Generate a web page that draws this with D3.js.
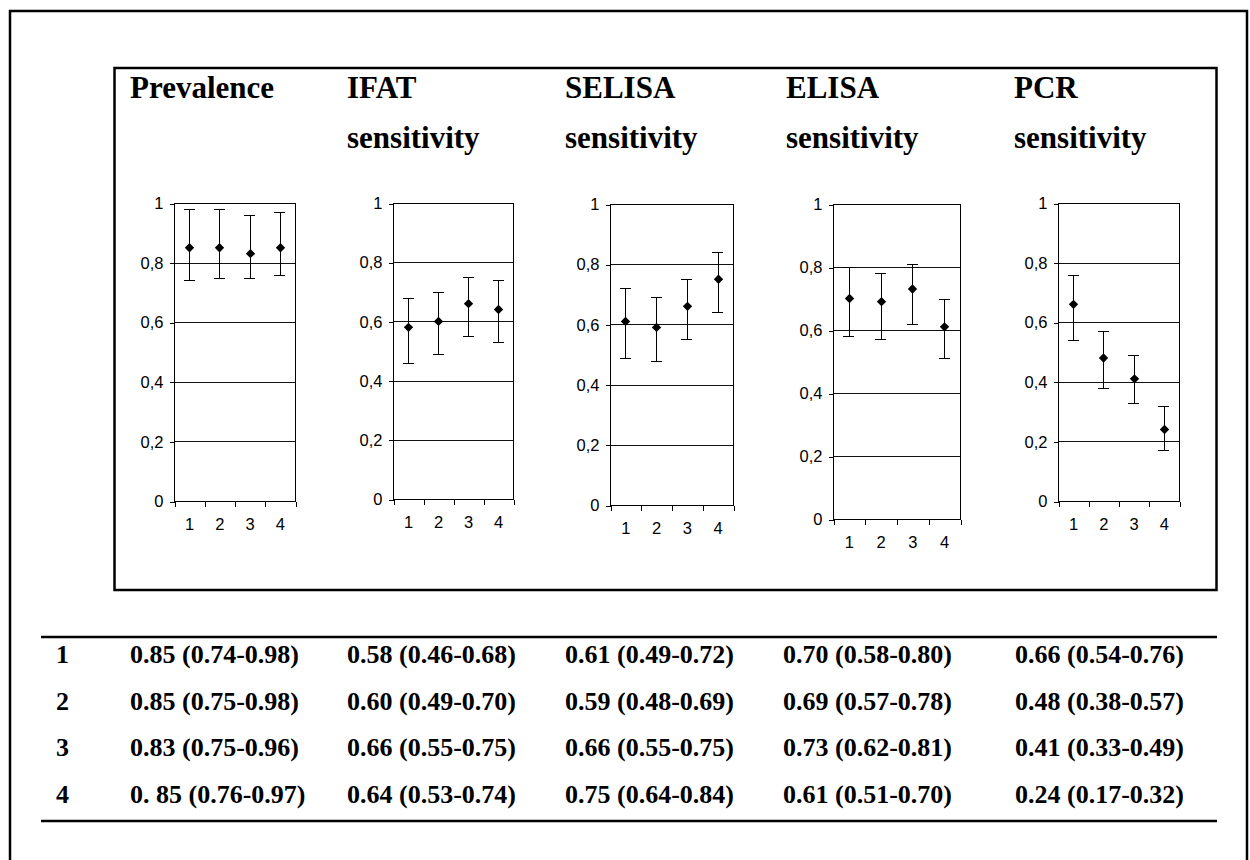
<!DOCTYPE html>
<html>
<head>
<meta charset="utf-8">
<script src="https://cdn.jsdelivr.net/npm/d3@7"></script>
<style>
  body { margin: 0; background: #fff; }
  svg { display: block; }
</style>
</head>
<body>
<svg id="chart"></svg>
<script>
// groups 1-4, one panel per parameter
const groups = [1, 2, 3, 4];
const titles = ["Prevalence", "IFAT", "SELISA", "ELISA", "PCR"];
const subtitles = ["", "sensitivity", "sensitivity", "sensitivity", "sensitivity"];

// point estimate, lower and upper limit, one row per panel
const estimate = [
  [0.85, 0.85, 0.83, 0.85],
  [0.58, 0.60, 0.66, 0.64],
  [0.61, 0.59, 0.66, 0.75],
  [0.70, 0.69, 0.73, 0.61],
  [0.66, 0.48, 0.41, 0.24]];
const lower = [
  [0.74, 0.75, 0.75, 0.76],
  [0.46, 0.49, 0.55, 0.53],
  [0.49, 0.48, 0.55, 0.64],
  [0.58, 0.57, 0.62, 0.51],
  [0.54, 0.38, 0.33, 0.17]];
const upper = [
  [0.98, 0.98, 0.96, 0.97],
  [0.68, 0.70, 0.75, 0.74],
  [0.72, 0.69, 0.75, 0.84],
  [0.80, 0.78, 0.81, 0.70],
  [0.76, 0.57, 0.49, 0.32]];

const yTicks = [0, 0.2, 0.4, 0.6, 0.8, 1];

const width = 1250;
const height = 860;

// plot areas are not quite evenly placed in the original
const panelBox = [
  {x0: 174, x1: 295, top: 203, bottom: 501},
  {x0: 393, x1: 513, top: 203, bottom: 499},
  {x0: 610, x1: 733, top: 204, bottom: 505},
  {x0: 833, x1: 960, top: 204, bottom: 519},
  {x0: 1058, x1: 1179, top: 203, bottom: 501}];
const headerX = [130, 347, 565, 786, 1014];
const tableX = [130, 347, 565, 783, 1015];
const rowY = [663, 709.5, 756, 802.5];

const serif = "'Liberation Serif', 'Times New Roman', serif";
const sans = "'Liberation Sans', Arial, sans-serif";

const comma = d3.formatLocale({decimal: ",", thousands: ".", grouping: [3], currency: ["", ""]}).format("~g");
const f2 = d3.format(".2f");

const svg = d3.select("#chart")
    .attr("width", width)
    .attr("height", height)
    .attr("viewBox", [0, 0, width, height]);

// outer page border (runs off the bottom)
svg.append("rect")
    .attr("x", 10).attr("y", 11)
    .attr("width", 1237).attr("height", 900)
    .attr("fill", "none").attr("stroke", "#000").attr("stroke-width", 2.5);

// frame round the charts
svg.append("rect")
    .attr("x", 114.5).attr("y", 68)
    .attr("width", 1102).attr("height", 522)
    .attr("fill", "none").attr("stroke", "#000").attr("stroke-width", 2.5);

// headers
titles.forEach((t, i) => {
  svg.append("text")
      .attr("x", headerX[i]).attr("y", 98)
      .attr("font-family", serif).attr("font-weight", "bold").attr("font-size", 31)
      .text(t);
  if (subtitles[i]) {
    svg.append("text")
        .attr("x", headerX[i]).attr("y", 148)
        .attr("font-family", serif).attr("font-weight", "bold").attr("font-size", 31)
        .text(subtitles[i]);
  }
});

titles.forEach((t, i) => {
  const b = panelBox[i];
  const x = d3.scaleLinear().domain([0.5, 4.5]).range([b.x0, b.x1]);
  const y = d3.scaleLinear().domain([0, 1]).range([b.bottom, b.top]);
  const g = svg.append("g").attr("shape-rendering", "crispEdges");

  // horizontal gridlines
  g.append("g").selectAll("line")
    .data(yTicks.filter(d => d > 0 && d < 1))
    .join("line")
      .attr("x1", b.x0).attr("x2", b.x1)
      .attr("y1", d => Math.round(y(d)) + 0.5).attr("y2", d => Math.round(y(d)) + 0.5)
      .attr("stroke", "#111");

  g.append("rect")
      .attr("x", b.x0 + 0.5).attr("y", b.top + 0.5)
      .attr("width", b.x1 - b.x0).attr("height", b.bottom - b.top)
      .attr("fill", "none").attr("stroke", "#000");

  // y axis
  g.append("g")
      .attr("transform", `translate(${b.x0 + 0.5},0.5)`)
      .call(d3.axisLeft(y).tickValues(yTicks).tickFormat(comma).tickSize(5).tickPadding(6))
      .call(a => a.select(".domain").remove())
      .call(a => a.selectAll("text").attr("font-family", sans).attr("font-size", 16.5).attr("fill", "#000"))
      .call(a => a.selectAll("line").attr("stroke", "#000"));

  // x axis: ticks between categories, labels under them
  g.append("g")
      .attr("transform", `translate(0.5,${b.bottom + 0.5})`)
      .call(d3.axisBottom(x).tickValues([0.5, 1.5, 2.5, 3.5, 4.5]).tickFormat("").tickSize(5))
      .call(a => a.select(".domain").remove())
      .call(a => a.selectAll("line").attr("stroke", "#000"));

  g.append("g")
      .attr("transform", `translate(0,${b.bottom})`)
      .call(d3.axisBottom(x).tickValues(groups).tickFormat(d3.format("d")).tickSize(0).tickPadding(17))
      .call(a => a.select(".domain").remove())
      .call(a => a.selectAll("text").attr("font-family", sans).attr("font-size", 16.5).attr("fill", "#000"));

  // error bars
  const bars = g.append("g").selectAll("g")
    .data(groups.map((grp, j) => ({grp, est: estimate[i][j], lo: lower[i][j], hi: upper[i][j]})))
    .join("g")
      .attr("stroke", "#000");
  bars.append("line")
      .attr("x1", d => Math.round(x(d.grp)) + 0.5).attr("x2", d => Math.round(x(d.grp)) + 0.5)
      .attr("y1", d => y(d.lo)).attr("y2", d => y(d.hi));
  bars.append("line")
      .attr("x1", d => x(d.grp) - 5.5).attr("x2", d => x(d.grp) + 5.5)
      .attr("y1", d => Math.round(y(d.lo)) + 0.5).attr("y2", d => Math.round(y(d.lo)) + 0.5);
  bars.append("line")
      .attr("x1", d => x(d.grp) - 5.5).attr("x2", d => x(d.grp) + 5.5)
      .attr("y1", d => Math.round(y(d.hi)) + 0.5).attr("y2", d => Math.round(y(d.hi)) + 0.5);

  svg.append("g").selectAll("path")
    .data(groups.map((grp, j) => ({grp, est: estimate[i][j]})))
    .join("path")
      .attr("d", d3.symbol(d3.symbolSquare, 44))
      .attr("transform", d => `translate(${Math.round(x(d.grp)) + 0.5},${y(d.est)}) rotate(45)`)
      .attr("fill", "#000");
});

// table under the charts
svg.append("g").attr("stroke", "#000").attr("stroke-width", 2.5)
  .selectAll("line")
  .data([637, 821])
  .join("line")
    .attr("x1", 41).attr("x2", 1217)
    .attr("y1", d => d).attr("y2", d => d);

const cell = (i, j) => {
  // the source table has a stray space in this one cell
  const e = (i === 0 && j === 3) ? "0. 85" : f2(estimate[i][j]);
  return `${e} (${f2(lower[i][j])}-${f2(upper[i][j])})`;
};

const rows = svg.append("g")
    .attr("font-family", serif).attr("font-weight", "bold").attr("font-size", 26);

groups.forEach((grp, j) => {
  rows.append("text").attr("x", 56).attr("y", rowY[j]).text(grp);
  titles.forEach((t, i) => {
    rows.append("text").attr("x", tableX[i]).attr("y", rowY[j]).text(cell(i, j));
  });
});
</script>
</body>
</html>
